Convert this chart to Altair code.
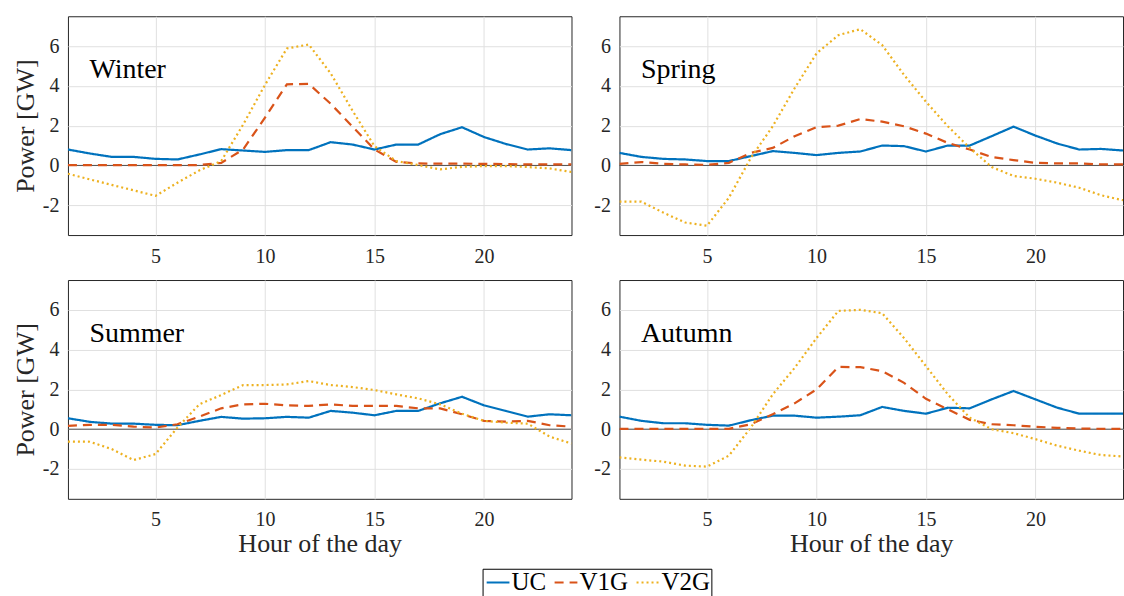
import altair as alt
import pandas as pd

hours = list(range(1, 25))
series_names = ["UC", "V1G", "V2G"]
season_names = ["Winter", "Spring", "Summer", "Autumn"]

winter_uc = [0.80, 0.60, 0.43, 0.43, 0.33, 0.30, 0.55, 0.82, 0.75, 0.68, 0.77, 0.77, 1.17, 1.05, 0.80, 1.05, 1.05, 1.57, 1.92, 1.43, 1.08, 0.80, 0.86, 0.77]
winter_v1g = [0.02, 0.02, 0.02, 0.02, 0.02, 0.02, 0.02, 0.13, 0.80, 2.40, 4.08, 4.10, 3.10, 1.95, 0.80, 0.18, 0.10, 0.09, 0.09, 0.08, 0.07, 0.05, 0.05, 0.05]
winter_v2g = [-0.42, -0.70, -0.98, -1.25, -1.53, -0.87, -0.25, 0.22, 2.05, 4.05, 5.88, 6.08, 4.63, 2.75, 0.97, 0.22, 0.02, -0.20, -0.07, -0.03, -0.03, -0.08, -0.15, -0.33]

spring_uc = [0.63, 0.43, 0.33, 0.30, 0.22, 0.22, 0.47, 0.72, 0.63, 0.52, 0.63, 0.70, 1.00, 0.97, 0.70, 1.00, 1.00, 1.47, 1.95, 1.50, 1.10, 0.80, 0.83, 0.75]
spring_v1g = [0.08, 0.17, 0.08, 0.05, 0.03, 0.13, 0.63, 0.88, 1.47, 1.92, 2.00, 2.33, 2.20, 1.97, 1.60, 1.13, 0.80, 0.42, 0.27, 0.13, 0.10, 0.10, 0.05, 0.05]
spring_v2g = [-1.82, -1.82, -2.37, -2.87, -3.03, -1.62, 0.38, 1.97, 3.88, 5.63, 6.55, 6.85, 6.05, 4.55, 3.20, 1.97, 0.88, -0.08, -0.53, -0.67, -0.87, -1.12, -1.50, -1.75]

summer_uc = [0.55, 0.37, 0.28, 0.28, 0.22, 0.20, 0.42, 0.62, 0.53, 0.55, 0.62, 0.58, 0.92, 0.83, 0.70, 0.92, 0.92, 1.30, 1.63, 1.20, 0.92, 0.63, 0.75, 0.70]
summer_v1g = [0.17, 0.22, 0.22, 0.13, 0.08, 0.25, 0.63, 1.05, 1.25, 1.28, 1.20, 1.17, 1.25, 1.17, 1.17, 1.17, 1.05, 1.05, 0.75, 0.42, 0.38, 0.42, 0.20, 0.13]
summer_v2g = [-0.62, -0.63, -1.00, -1.55, -1.25, 0.08, 1.25, 1.72, 2.22, 2.22, 2.25, 2.42, 2.22, 2.12, 1.97, 1.75, 1.55, 1.25, 0.78, 0.42, 0.33, 0.28, -0.37, -0.72]

autumn_uc = [0.63, 0.42, 0.30, 0.30, 0.22, 0.18, 0.45, 0.68, 0.68, 0.58, 0.63, 0.70, 1.12, 0.92, 0.78, 1.08, 1.05, 1.50, 1.92, 1.50, 1.08, 0.78, 0.78, 0.78]
autumn_v1g = [0.02, 0.02, 0.02, 0.02, 0.02, 0.02, 0.25, 0.75, 1.30, 2.00, 3.13, 3.12, 2.92, 2.33, 1.53, 1.00, 0.47, 0.25, 0.20, 0.12, 0.07, 0.03, 0.02, 0.02]
autumn_v2g = [-1.42, -1.53, -1.63, -1.83, -1.88, -1.33, 0.08, 1.75, 3.08, 4.58, 5.95, 6.00, 5.83, 4.58, 3.17, 1.75, 0.58, 0.00, -0.20, -0.50, -0.83, -1.08, -1.30, -1.37]

x_ticks = [5, 10, 15, 20]
y_ticks = [-2, 0, 2, 4, 6]
label_hour = [1.98, 1.98, 1.98, 1.98]
label_power = [4.8, 4.8, 4.8, 4.8]

season_data = {
    "Winter": [winter_uc, winter_v1g, winter_v2g],
    "Spring": [spring_uc, spring_v1g, spring_v2g],
    "Summer": [summer_uc, summer_v1g, summer_v2g],
    "Autumn": [autumn_uc, autumn_v1g, autumn_v2g],
}

FONT = "Liberation Serif"
colors = ["#0072BD", "#D95319", "#EDB120"]
dashes = [[1, 0], [9, 6], [2, 3]]
PW, PH = 504, 219


def panel(idx, season, x_title, y_title):
    rows = []
    for s, vals in zip(series_names, season_data[season]):
        for h, v in zip(hours, vals):
            rows.append({"hour": h, "power": v, "series": s})
    df = pd.DataFrame(rows)

    x_axis = alt.Axis(values=x_ticks, ticks=False, labelPadding=11, domain=False,
                      grid=True, titlePadding=1,
                      title=("Hour of the day" if x_title else None))
    y_axis = alt.Axis(values=y_ticks, ticks=False, labelPadding=9, domain=False,
                      grid=True, titlePadding=4,
                      labelExpr="datum.value < 0 ? '-' + abs(datum.value) : '' + datum.value",
                      title=("Power [GW]" if y_title else None))
    xs = alt.Scale(domain=[1, 24], nice=False, zero=False)
    ys = alt.Scale(domain=[-3.5, 7.5], nice=False, zero=False)

    legend = alt.Legend(title=None, orient="none", legendX=415, legendY=553,
                        direction="horizontal", symbolType="stroke",
                        strokeColor="#000000", fillColor="#ffffff",
                        padding=1, symbolSize=520, symbolStrokeWidth=2,
                        labelFont=FONT, labelFontSize=25, labelColor="#000000",
                        columnPadding=4, labelOffset=1, symbolOffset=2)

    lines = alt.Chart(df).mark_line(strokeWidth=2.2, clip=True).encode(
        x=alt.X("hour:Q", scale=xs, axis=x_axis),
        y=alt.Y("power:Q", scale=ys, axis=y_axis),
        color=alt.Color("series:N", scale=alt.Scale(domain=series_names, range=colors), legend=legend),
        strokeDash=alt.StrokeDash("series:N", scale=alt.Scale(domain=series_names, range=dashes), legend=legend),
    )
    zero = alt.Chart(pd.DataFrame({"z": [0]})).mark_rule(color="#4d4d4d", strokeWidth=1).encode(
        y=alt.Y("z:Q", scale=ys))
    lab = alt.Chart(pd.DataFrame({"hour": [label_hour[idx]], "power": [label_power[idx]], "name": [season]})).mark_text(
        align="left", baseline="middle", font=FONT, fontSize=28, color="#000000").encode(
        x=alt.X("hour:Q", scale=xs), y=alt.Y("power:Q", scale=ys), text="name:N")
    return alt.layer(zero, lines, lab).properties(width=PW, height=PH)


chart = alt.concat(
    panel(0, "Winter", False, True), panel(1, "Spring", False, False),
    panel(2, "Summer", True, True), panel(3, "Autumn", True, False),
    columns=2, spacing={"row": 45, "column": 48}, bounds="flush",
).resolve_scale(
    color="shared", strokeDash="shared").properties(
    padding={"left": 11, "top": 15, "right": 0, "bottom": 0},
    background="#ffffff",
).configure_view(stroke="#262626", strokeWidth=1).configure_axis(
    labelFont=FONT, labelFontSize=20, labelColor="#262626",
    titleFont=FONT, titleFontSize=26, titleFontWeight="normal", titleColor="#262626",
    gridColor="#e0e0e0", gridWidth=1,
)

chart.save("out.html", embed_options={"renderer": "svg", "actions": False})
